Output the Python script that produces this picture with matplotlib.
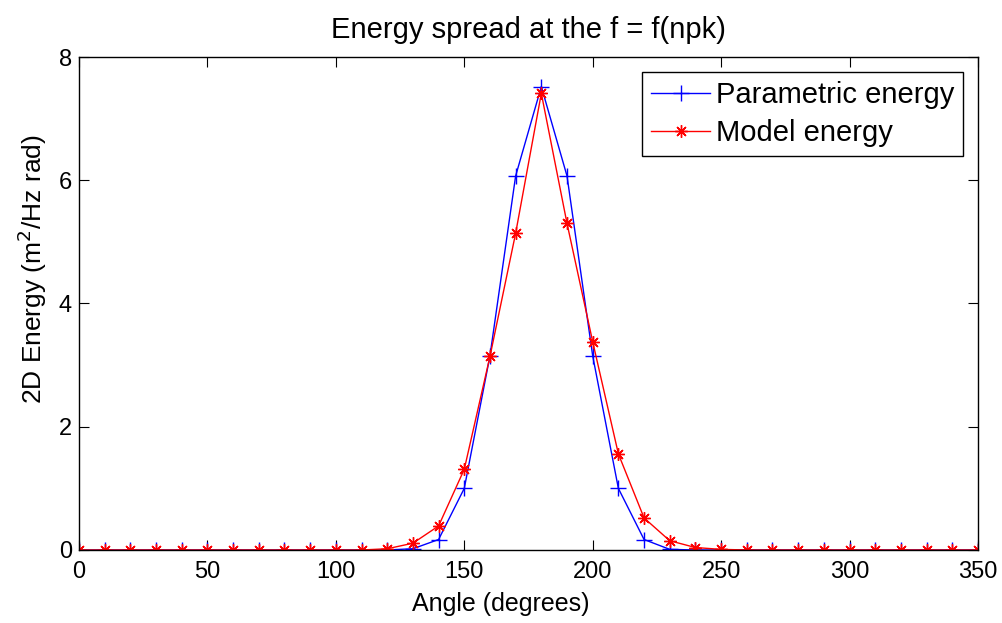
import numpy as np
import matplotlib.pyplot as plt

plt.rcParams['font.family'] = ['Liberation Sans', 'DejaVu Sans']

angles = np.arange(0, 360, 10)
parametric = [0, 0, 0, 0, 0, 0, 0, 0, 0, 0, 0, 0, 0,
              0.02, 0.17, 1.0, 3.15, 6.07, 7.52, 6.07, 3.15, 1.0, 0.17, 0.01,
              0, 0, 0, 0, 0, 0, 0, 0, 0, 0, 0, 0]
model = [0, 0, 0, 0, 0, 0, 0, 0, 0, 0, 0, 0, 0.02,
         0.11, 0.39, 1.31, 3.14, 5.14, 7.41, 5.30, 3.38, 1.56, 0.52, 0.15,
         0.04, 0.01, 0, 0, 0, 0, 0, 0, 0, 0, 0, 0]

fig = plt.figure(figsize=(10.03, 6.23), dpi=100)
ax = fig.add_axes([0.0788, 0.1172, 0.8962, 0.7913])

# matlab-ish asterisk: 8 spokes
ax.plot(angles, parametric, color='#0000ff', marker='+', markersize=11,
        markeredgewidth=1, linewidth=1, label='Parametric energy')
ax.plot(angles, model, color='#ff0000', marker=(8, 2, 0), markersize=9,
        markeredgewidth=1, linewidth=1, label='Model energy')

ax.set_xlim(0, 350)
ax.set_ylim(0, 8)
ax.set_xticks(np.arange(0, 351, 50))
ax.set_yticks(np.arange(0, 9, 2))
ax.tick_params(direction='in', top=True, right=True, labelsize=17, length=7)
ax.tick_params(axis='x', pad=8)
ax.tick_params(axis='y', pad=5)
for s in ax.spines.values():
    s.set_linewidth(1)

ax.set_xlabel('Angle (degrees)', fontsize=18, va='top')
ax.xaxis.set_label_coords(0.469, -0.085)
ax.set_ylabel('2D Energy (m$^2$/Hz rad)', fontsize=19)
ax.yaxis.set_label_coords(-0.033, 0.57)
ax.set_title('Energy spread at the f = f(npk)', fontsize=21, pad=14)

leg = ax.legend(loc='upper right', fontsize=21, fancybox=False, edgecolor='black',
                framealpha=1, borderaxespad=0.5, handlelength=2.0,
                borderpad=0.32, labelspacing=0.34, handletextpad=0.2)
leg.get_frame().set_linewidth(1)

fig.savefig('out.png', dpi=100)
